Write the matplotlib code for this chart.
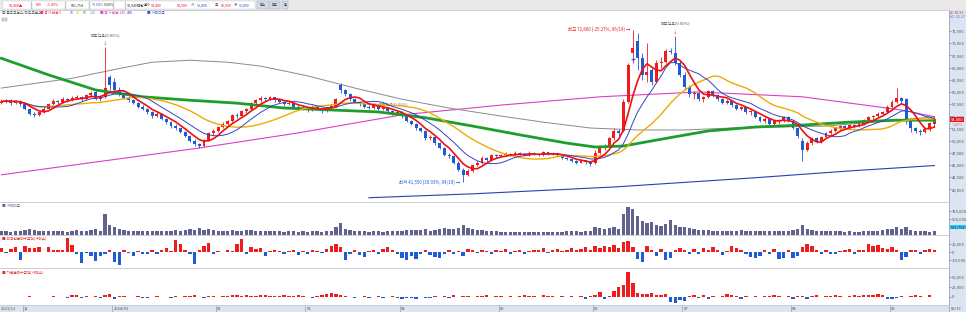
import matplotlib
matplotlib.use("Agg")
import matplotlib.pyplot as plt
import matplotlib.transforms as mtransforms
from matplotlib.patches import Rectangle
import numpy as np
import pandas as pd

plt.rcParams['font.family'] = ['Noto Sans CJK KR', 'DejaVu Sans']

# first trading day index of each month on the x axis
month_idx = [0, 5, 24, 46, 65, 85, 106, 126, 145, 168, 189]
month_lbl = ['2023/11', '12', '2024/01', '02', '03', '04', '05', '06', '07', '08', '09']

# daily prices, thousand won (2023/11/24 .. 2024/09/13)
opens = [57.8, 58.0, 58.3, 57.8, 58.2, 57.5, 56.5, 55.5, 55.2, 55.8,
         56.6, 57.5, 58.2, 58.0, 58.6, 58.3, 58.8, 59.0, 58.5, 59.3,
         60.0, 58.5, 59.0, 63.0, 62.0, 60.5, 59.5, 58.8, 58.4, 57.8,
         57.0, 56.5, 55.8, 55.0, 55.5, 54.5, 53.8, 53.0, 52.5, 51.8,
         51.0, 50.0, 49.3, 49.0, 50.2, 51.5, 52.0, 52.8, 53.5, 54.0,
         55.2, 55.0, 56.0, 56.5, 57.8, 58.3, 58.8, 58.5, 58.9, 58.3,
         58.0, 57.5, 57.8, 57.0, 56.5, 56.8, 56.2, 57.0, 56.5, 56.0,
         56.8, 57.2, 61.5, 60.3, 59.5, 58.5, 58.0, 57.5, 57.0, 56.8,
         57.5, 56.5, 56.8, 56.0, 55.5, 55.8, 55.0, 54.0, 53.5, 52.5,
         52.0, 50.5, 50.8, 49.5, 48.5, 47.0, 46.8, 45.5, 44.0, 43.0,
         43.8, 45.0, 45.5, 46.5, 46.0, 47.0, 46.8, 47.0, 47.3, 47.0,
         47.5, 47.2, 47.0, 47.5, 47.3, 47.0, 47.6, 47.2, 47.4, 47.0,
         46.5, 46.2, 45.8, 45.5, 46.0, 45.6, 45.5, 47.5, 48.5, 49.0,
         50.5, 52.0, 52.0, 58.0, 68.0, 70.5, 67.0, 63.5, 64.5, 62.0,
         66.0, 66.2, 68.5, 68.0, 66.0, 63.5, 61.0, 59.5, 59.8, 58.5,
         59.0, 60.2, 59.3, 58.5, 57.8, 58.2, 57.3, 56.5, 56.9, 55.8,
         56.0, 54.8, 54.0, 54.5, 53.5, 54.0, 54.2, 54.8, 54.0, 52.5,
         50.0, 48.0, 49.5, 50.5, 49.8, 50.8, 51.5, 52.0, 52.5, 53.0,
         52.6, 53.2, 53.0, 53.5, 54.2, 54.8, 55.0, 55.5, 55.8, 57.0,
         58.0, 58.8, 58.5, 54.0, 52.5, 52.0, 51.8, 52.3, 53.4]
highs = [58.5, 58.6, 58.5, 58.4, 58.3, 57.8, 56.8, 55.9, 56.0, 56.9,
         57.8, 58.5, 58.4, 58.9, 58.8, 59.1, 59.4, 59.2, 59.5, 60.2,
         60.3, 59.3, 69.2, 63.5, 62.8, 61.0, 59.8, 59.2, 58.6, 58.0,
         57.3, 56.8, 56.0, 55.9, 55.6, 54.7, 54.0, 53.4, 52.7, 52.0,
         51.2, 50.3, 49.6, 50.4, 51.8, 52.3, 53.0, 53.8, 54.3, 55.5,
         55.6, 56.3, 56.8, 58.0, 58.6, 59.2, 59.0, 59.2, 59.0, 58.6,
         58.2, 58.1, 58.0, 57.3, 57.1, 57.0, 57.3, 57.2, 56.7, 57.0,
         57.5, 58.8, 61.8, 60.6, 59.8, 58.8, 58.2, 57.8, 57.3, 57.8,
         57.6, 57.1, 57.0, 56.2, 56.0, 56.0, 55.2, 54.3, 53.7, 52.8,
         52.2, 51.2, 51.0, 49.8, 48.7, 47.5, 47.0, 45.8, 44.3, 44.1,
         45.3, 45.8, 46.8, 46.7, 47.3, 47.2, 47.3, 47.6, 47.5, 47.8,
         47.7, 47.4, 47.8, 47.6, 47.5, 47.9, 47.7, 47.6, 47.5, 47.1,
         46.7, 46.4, 46.0, 46.3, 46.1, 45.8, 48.0, 48.8, 49.3, 50.8,
         52.5, 52.3, 58.5, 66.0, 72.8, 72.0, 68.0, 70.0, 65.0, 66.5,
         67.2, 68.8, 69.0, 71.5, 66.3, 64.0, 61.5, 60.2, 60.0, 59.2,
         60.5, 60.4, 59.5, 58.8, 58.5, 58.4, 57.5, 57.2, 57.0, 56.3,
         56.1, 55.0, 54.8, 54.6, 54.3, 54.5, 55.0, 55.0, 54.2, 52.7,
         50.5, 50.0, 50.8, 50.8, 51.0, 51.8, 52.3, 52.8, 53.3, 53.2,
         53.5, 53.4, 53.8, 54.5, 55.0, 55.3, 55.8, 56.0, 57.3, 58.3,
         60.8, 59.0, 58.8, 54.3, 52.9, 52.4, 52.6, 53.8, 55.0]
lows = [57.5, 57.7, 57.4, 57.5, 57.2, 56.2, 55.2, 54.8, 55.0, 55.6,
        56.4, 57.3, 57.6, 57.8, 58.0, 58.1, 58.5, 58.2, 58.4, 59.0,
        58.3, 58.2, 58.8, 60.5, 60.2, 59.2, 58.5, 58.0, 57.5, 56.8,
        56.2, 55.5, 54.7, 54.8, 54.2, 53.5, 52.7, 52.2, 51.5, 50.7,
        49.8, 49.0, 48.5, 48.8, 50.0, 51.2, 51.8, 52.5, 53.2, 53.8,
        54.6, 54.9, 55.7, 56.3, 57.5, 58.0, 58.2, 58.3, 58.0, 57.8,
        57.2, 57.3, 56.8, 56.2, 56.3, 55.9, 56.0, 56.2, 55.7, 55.8,
        56.5, 57.0, 59.8, 59.2, 58.2, 57.7, 57.2, 56.7, 56.5, 56.6,
        56.3, 56.3, 55.8, 55.2, 55.2, 54.7, 53.8, 53.2, 52.2, 51.7,
        50.2, 50.2, 49.2, 48.2, 46.8, 46.5, 45.2, 43.7, 41.55, 42.8,
        43.6, 44.8, 45.3, 45.7, 45.8, 46.5, 46.6, 46.8, 46.8, 46.9,
        47.0, 46.8, 46.9, 47.0, 46.8, 46.9, 47.0, 47.0, 46.8, 46.3,
        46.0, 45.6, 45.2, 45.4, 45.3, 44.8, 45.3, 47.2, 48.0, 48.8,
        50.2, 51.0, 51.8, 57.8, 66.0, 64.5, 62.5, 62.0, 61.5, 61.8,
        65.0, 66.0, 67.8, 65.5, 63.0, 60.5, 59.0, 58.5, 58.2, 58.0,
        58.8, 59.0, 58.2, 57.5, 57.5, 57.0, 56.3, 56.2, 55.5, 55.3,
        54.6, 53.8, 53.6, 53.2, 53.3, 53.4, 53.9, 53.8, 52.3, 50.5,
        45.8, 47.8, 49.2, 49.5, 49.6, 50.5, 51.2, 51.7, 52.2, 52.3,
        52.4, 52.7, 52.8, 53.3, 54.0, 54.5, 54.8, 55.2, 55.6, 56.8,
        57.8, 57.8, 53.5, 51.8, 51.5, 51.2, 51.5, 52.0, 52.8]
closes = [58.0, 58.3, 57.8, 58.2, 57.5, 56.5, 55.5, 55.2, 55.8, 56.6,
          57.5, 58.2, 58.0, 58.6, 58.3, 58.8, 59.0, 58.5, 59.3, 59.8,
          58.5, 59.0, 60.8, 61.5, 60.5, 59.5, 58.8, 58.4, 57.8, 57.0,
          56.5, 55.8, 55.0, 55.5, 54.5, 53.8, 53.0, 52.5, 51.8, 51.0,
          50.0, 49.3, 49.0, 50.2, 51.5, 52.0, 52.8, 53.5, 54.0, 55.2,
          55.0, 56.0, 56.5, 57.8, 58.3, 58.8, 58.5, 58.9, 58.3, 58.0,
          57.5, 57.8, 57.0, 56.5, 56.8, 56.2, 57.0, 56.5, 56.0, 56.8,
          57.2, 58.5, 60.3, 59.5, 58.5, 58.0, 57.5, 57.0, 56.8, 57.5,
          56.5, 56.8, 56.0, 55.5, 55.8, 55.0, 54.0, 53.5, 52.5, 52.0,
          50.5, 50.8, 49.5, 48.5, 47.0, 46.8, 45.5, 44.0, 43.0, 43.8,
          45.0, 45.5, 46.5, 46.0, 47.0, 46.8, 47.0, 47.3, 47.0, 47.5,
          47.2, 47.0, 47.5, 47.3, 47.0, 47.6, 47.2, 47.4, 47.0, 46.5,
          46.2, 45.8, 45.5, 46.0, 45.6, 45.2, 47.5, 48.5, 49.0, 50.5,
          52.0, 51.5, 58.0, 65.5, 69.0, 67.0, 63.5, 64.0, 62.0, 66.0,
          66.2, 68.5, 68.2, 66.0, 63.5, 61.0, 59.5, 59.8, 58.5, 59.0,
          60.2, 59.3, 58.5, 57.8, 58.2, 57.3, 56.5, 56.9, 55.8, 56.0,
          54.8, 54.0, 54.5, 53.5, 54.0, 54.2, 54.8, 54.0, 52.5, 51.0,
          48.0, 49.5, 50.5, 49.8, 50.8, 51.5, 52.0, 52.5, 53.0, 52.6,
          53.2, 53.0, 53.5, 54.2, 54.8, 55.0, 55.5, 55.8, 57.0, 58.0,
          58.8, 58.2, 54.0, 52.5, 52.0, 51.8, 52.3, 53.6, 54.4]

# long moving averages: (day index, thousand won)
ma60_pts = [(0, 66.9), (10, 63.5), (20, 60.4), (30, 59.0), (40, 58.3), (50, 57.7),
            (60, 56.7), (70, 56.3), (80, 55.9), (90, 54.7), (100, 53.0), (110, 51.2),
            (120, 49.5), (126, 48.7), (132, 48.9), (140, 50.3), (150, 52.0),
            (160, 52.8), (170, 53.2), (180, 53.8), (190, 54.2), (198, 54.2)]
ma120_pts = [(0, 60.8), (15, 62.8), (25, 64.8), (32, 66.1), (40, 66.5), (48, 66.1),
             (55, 65.3), (65, 63.3), (75, 60.8), (85, 58.5), (95, 56.7), (105, 55.2),
             (115, 53.8), (125, 52.6), (135, 52.2), (145, 52.2), (155, 52.6),
             (165, 52.8), (175, 53.0), (185, 53.8), (198, 54.9)]
ma240_pts = [(0, 43.0), (42, 48.5), (63, 51.6), (85, 55.3), (106, 57.3), (127, 59.0),
             (148, 60.0), (170, 59.0), (191, 56.3), (198, 54.9)]
ma480_pts = [(78, 38.3), (100, 39.1), (130, 40.5), (160, 42.4), (180, 43.8), (198, 44.9)]

# volume (thousand shares)
volume = [120, 110, 100, 120, 110, 150, 180, 160, 130, 120,
          140, 130, 110, 120, 100, 130, 150, 120, 140, 160,
          180, 130, 660, 320, 250, 200, 160, 140, 130, 120,
          120, 140, 130, 110, 120, 130, 140, 150, 130, 160,
          190, 170, 210, 150, 180, 160, 140, 130, 120, 170,
          140, 120, 150, 160, 130, 120, 110, 130, 120, 110,
          100, 120, 110, 100, 110, 100, 120, 110, 100, 120,
          140, 260, 360, 200, 150, 130, 120, 110, 100, 110,
          120, 100, 110, 120, 130, 140, 150, 160, 170, 150,
          180, 140, 170, 190, 210, 180, 200, 230, 300, 220,
          180, 160, 150, 130, 140, 120, 100, 90, 100, 90,
          80, 90, 100, 90, 80, 100, 90, 80, 90, 100,
          110, 120, 110, 100, 120, 130, 250, 230, 200, 220,
          260, 200, 650, 880, 820, 600, 450, 380, 420, 300,
          280, 350, 480, 300, 250, 260, 220, 180, 160, 150,
          170, 140, 130, 140, 120, 130, 140, 150, 130, 120,
          140, 130, 120, 110, 120, 110, 130, 120, 150, 180,
          300, 200, 160, 140, 130, 120, 110, 120, 110, 100,
          110, 100, 100, 110, 120, 130, 140, 150, 180, 200,
          260, 180, 240, 170, 140, 120, 110, 100, 110]

# foreign net buying (x1000)
foreign = [5, -1, 4, 6, -10, 7, 5, 5, 6, 0.5,
           6, 2, 2, 3, 17, 9, -3, -14, -1, -5,
           -11, -5, -2, 2, -13, -16, 3, -1, -5, 1,
           -2, -3, 2, -3, 3, 5, 1, 15, 10, 2,
           -3, -15, 3, 8, 11, -2, 1, 0.5, 2, 1,
           10, 16, -2, 6, 4, 5, -5, 1, 3, 1,
           -3, 1, 2, -4, 1, -2, 3, 1, -1, 4,
           8, 10, 6, -10, -3, 2, -4, -6, 1, 2,
           -3, 4, 6, 3, -2, -8, -10, -5, -9, -3,
           2, -4, -6, -8, -3, 3, -2, 1, -5, 4,
           2, -1, 3, 1, -2, 2, 1, 4, -2, 1,
           2, -3, 1, 3, 2, 5, -1, 2, 4, 1,
           3, 5, 2, 4, 6, 3, 8, 5, 7, 6,
           9, 5, 12, 14, 6, -9, -12, 8, 3, -5,
           4, -10, -8, 3, 5, 2, -3, 4, -2, 5,
           3, 6, 2, -4, 1, 7, 5, 3, -2, -6,
           -8, -5, 2, -3, 4, -9, -7, 2, -8, -5,
           6, 10, 8, 3, -2, 2, -3, -2, 1, 3,
           4, -2, 2, 3, 10, 8, 9, 5, 4, 6,
           3, -10, -6, 2, 3, -2, 3, 4, 3]

# institutional net buying (x1000)
inst = [1, -1, 0.5, -1, 1, -0.5, 3, -1, 0.5, -1,
        1, 2, -1, 1, -3, 4, 6, -3, 2, 1,
        2, -2, 5, 7, -4, 3, 2, 1, -1, 3,
        -3, -2, 1, 2, -1, 1, -2, 2, 1, 3,
        2, 4, 1, -2, 2, 3, 1, 2, 3, 4,
        5, 3, 4, 2, 3, 5, 4, 2, 3, 2,
        4, 3, 2, 5, 3, 1, -2, 2, 4, 7,
        10, 8, 4, 2, -1, -3, 1, 3, -2, 1,
        2, -3, 1, 2, -2, -4, -3, -2, -5, 1,
        -2, -3, 2, -1, 3, -2, 4, 1, 2, 3,
        1, 3, 2, 4, 1, 2, 3, 1, 2, 1,
        3, 4, 2, 3, 1, 5, 3, 2, -1, 2,
        1, 2, -1, 3, -6, 2, 5, 12, -4, 2,
        15, 25, 30, 62, 35, 10, 8, 7, 9, 6,
        5, 8, -12, -15, -8, -10, 3, 5, -2, 4,
        -4, 2, 1, 3, 8, 6, 2, -4, 3, 1,
        2, 1, 3, 3, 4, 2, -1, 3, -5, 2,
        3, -5, 2, 4, 1, 3, 2, 4, 3, 1,
        2, 4, 3, 6, 5, 6, 7, 6, -4, -5,
        -3, 2, 1, 3, 6, 2, 1, 4, 1]

RED = '#ee1c1c'
BLUE = '#1f5bd6'
GRID = '#c4c8d0'
STRIP = '#dbe5f1'
TXT = '#505050'
FS = 3.2
FT = 2.9  # axis labels

df = pd.DataFrame({'o': opens, 'h': highs, 'l': lows, 'c': closes})
df[['o', 'h', 'l', 'c']] *= 1000
n = len(df)
x = np.arange(n)
up = df['c'] >= df['o']
colors = np.where(up, RED, BLUE)

W_PX, H_PX = 966, 312
fig = plt.figure(figsize=(W_PX / 100, H_PX / 100), dpi=100)


def box(top, bottom, right=949):
    return [0, 1 - bottom / H_PX, right / W_PX, (bottom - top) / H_PX]


def frect(px, py, w, h, **kw):
    # rectangle in pixel coords from the top-left corner
    fig.patches.append(Rectangle((px / W_PX, 1 - (py + h) / H_PX), w / W_PX, h / H_PX,
                                 transform=fig.transFigure, **kw))


# backgrounds: toolbar, right scale strip, date strip
frect(0, 0, W_PX, 10, color='#e9e9e9', zorder=-2)
frect(949, 10, W_PX - 949, H_PX - 10, color=STRIP, zorder=-2)
frect(0, 305, W_PX, 7, color=STRIP, zorder=-2)
frect(3, 1.5, 252, 7.5, fc='white', ec='#c8c8c8', lw=0.3, zorder=-1)

ax = fig.add_axes(box(10, 201))
axv = fig.add_axes(box(202, 235), sharex=ax)
axf = fig.add_axes(box(235, 268), sharex=ax)
axi = fig.add_axes(box(268, 305), sharex=ax)
axd = fig.add_axes(box(305, 312), sharex=ax)

x_left = -1.4 / 4.712
x_right = (949 - 1.4) / 4.712
for a in (ax, axv, axf, axi, axd):
    a.set_xlim(x_left, x_right)
    a.tick_params(axis='x', bottom=False, labelbottom=False)
    for s in ('left', 'bottom'):
        a.spines[s].set_visible(False)
    a.spines['top'].set_color(GRID)
    a.spines['right'].set_color('#9aa6b8')
    a.spines['top'].set_linewidth(0.6)
    a.spines['right'].set_linewidth(0.6)
    a.yaxis.tick_right()
    a.tick_params(axis='y', labelsize=FT, colors=TXT, length=1.2, width=0.4, pad=0.8)
axd.set_facecolor(STRIP)
axd.set_yticks([])

# ---- price panel
ax.vlines(x, df['l'], df['h'], colors=colors, linewidth=0.6, zorder=2)
body_h = (df['c'] - df['o']).abs().clip(lower=60)
ax.bar(x, body_h, bottom=np.minimum(df['o'], df['c']), width=0.62, color=colors,
       linewidth=0, zorder=3)

ma5 = df['c'].rolling(5, min_periods=1).mean()
ma10 = df['c'].rolling(10, min_periods=1).mean()
ma20 = df['c'].rolling(20, min_periods=1).mean()


def pts(p):
    return [q[0] for q in p], [q[1] * 1000 for q in p]


ax.plot(*pts(ma240_pts), color='#e03cc8', lw=0.8, zorder=1)
ax.plot(*pts(ma480_pts), color='#2b3fb0', lw=0.8, zorder=1)
ax.plot(*pts(ma120_pts), color='#8a8a8a', lw=0.7, zorder=1)
ax.plot(*pts(ma60_pts), color='#1d9e2c', lw=2.0, zorder=4)
ax.plot(x, ma20, color='#f2a900', lw=1.0, zorder=4)
ax.plot(x, ma10, color='#3545c0', lw=0.7, zorder=4)
ax.plot(x, ma5, color='#f01010', lw=1.2, zorder=5)

ax.set_ylim(37628, 76808)
pt = np.arange(40000, 72501, 2500)
ax.set_yticks(pt)
ax.set_yticklabels([f'{v:,}' for v in pt])

tr = mtransforms.blended_transform_factory(ax.transAxes, ax.transData)
ax.text(1.002, 54400, '54,400', transform=tr, fontsize=FT, color='white', va='center',
        ha='left', bbox=dict(boxstyle='square,pad=0.12', fc='#e8141c', ec='none'), zorder=10)
ax.text(1.004, 53300, '1.49%', transform=tr, fontsize=FT - 0.3, color='#ff6060',
        va='center', ha='left')
fig.text(950 / W_PX, 1 - 12.5 / H_PX, 'LC:30.93', fontsize=FT - 0.3, color='#e02020',
         va='center')
fig.text(950 / W_PX, 1 - 16.5 / H_PX, 'HC:-25.27', fontsize=FT - 0.4, color='#4070d0',
         va='center')

# high / low notes
i_hi = int(np.argmax(df['h']))
i_lo = int(np.argmin(df['l']))
ax.text(i_hi - 0.6, df['h'][i_hi], '최고 72,800 (-25.27%, 06/14) →', color=RED,
        fontsize=FS, ha='right', va='center')
ax.text(i_lo - 0.6, df['l'][i_lo], '최저 41,550 (30.93%, 04/19) →', color=BLUE,
        fontsize=FS, ha='right', va='center')
# sell signal markers
for i_m in (22, 143):
    ax.text(i_m, df['h'][i_m] + 1900, '매도신호(0.00%)', color=TXT, fontsize=FS - 0.3,
            ha='center', va='bottom')
    ax.text(i_m, df['h'][i_m] + 300, '↓', color=RED, fontsize=FS, ha='center', va='bottom')
ax.text(80, 57300, '매도신호(0.00%)', color='#707070', fontsize=FS - 0.3, ha='left',
        va='center')
ax.plot([134], [66700], marker='+', color=BLUE, ms=2.5, mew=0.8, zorder=6)

# legend line
items = [('▣ 골드크로스/데드크로스', '#505050'), ('■ 종가 단순 5', '#ff3a6e'), ('10', '#3050d0'),
         ('20', '#f0a000'), ('60', '#20a040'), ('120', '#888888'),
         ('■ 종가 단순 240', '#e040c0'), ('480', '#2b3fb0'), ('■ 거래대금', '#4050c8')]
starts = [2, 40, 70, 76, 83, 90, 100, 127, 147]
for (t, c), sx in zip(items, starts):
    fig.text(sx / W_PX, 1 - 13 / H_PX, t, color=c, fontsize=FS - 0.6, va='center')
frect(2, 18, 5, 3, fc='#d8d8d8', ec='#909090', lw=0.3)

# toolbar
tb = [(9, '54,400▲', RED), (36, '800', RED), (47, '+1.49%', RED), (71, '681,754', '#303030'),
      (92, '75.64%', '#3060d0'), (104, '0.34%', '#303030'), (127, '32,940백만', '#303030'),
      (144, '호가', '#303030'), (151, '54,400', RED), (177, '54,300', RED),
      (191, '시', '#303030'), (197, '53,400', BLUE), (215, '고', '#303030'),
      (221, '55,000', RED), (234, '저', '#303030'), (239, '52,800', BLUE)]
for px, t, c in tb:
    fig.text(px / W_PX, 1 - 5.5 / H_PX, t, color=c, fontsize=FS - 0.6, va='center')
for sx in (31, 65, 89, 113, 125):
    frect(sx, 1.5, 0.4, 7.5, color='#c8c8c8', zorder=-1)
for px, w, t in ((257, 12, '매수'), (270, 10, '매도'), (282, 6, '원')):
    frect(px, 1, w, 8, fc='#d4dbe6', ec='#9aa3b0', lw=0.3)
    fig.text((px + w / 2) / W_PX, 1 - 5.5 / H_PX, t, fontsize=FS - 0.8, color='#303030',
             ha='center', va='center')

# ---- volume panel
axv.bar(x, np.array(volume) * 1000, width=0.7, color='#62628e', linewidth=0)
axv.set_ylim(0, 1031250)
axv.set_yticks([500000, 750000])
axv.set_yticklabels(['500,000', '750,000'])
trv = mtransforms.blended_transform_factory(axv.transAxes, axv.transData)
axv.text(1.002, 250000, '681,754', transform=trv, fontsize=FT, color='#204060', va='center',
         ha='left', bbox=dict(boxstyle='square,pad=0.12', fc='#25c8ee', ec='none'))
axv.text(0.002, 0.93, '■ 거래대금', transform=axv.transAxes, color='#6a6a98',
         fontsize=FS - 0.5, va='top')

# ---- foreign / institution panels
f = np.array(foreign) * 1000
axf.bar(x, f, width=0.72, color=np.where(f >= 0, RED, BLUE), linewidth=0)
axf.set_ylim(-20000, 21250)
axf.set_yticks([-10000, 0, 10000])
axf.set_yticklabels(['-10,000', '0', '10,000'])
axf.text(0.002, 0.95, '■ 외국인순매수금액(거래소)', transform=axf.transAxes, color='#e03030',
         fontsize=FS - 0.5, va='top')

g = np.array(inst) * 1000
axi.bar(x, g, width=0.72, color=np.where(g >= 0, RED, BLUE), linewidth=0)
axi.set_ylim(-20000, 72500)
axi.set_yticks([0, 25000, 50000])
axi.set_yticklabels(['0', '25,000', '50,000'])
axi.text(0.002, 0.95, '■ 기관순매수금액(거래소)', transform=axi.transAxes, color='#e03030',
         fontsize=FS - 0.5, va='top')

# ---- date strip
for k, (mi, ml) in enumerate(zip(month_idx, month_lbl)):
    if k > 0:
        axd.axvline(mi - 0.5, color='#8090a8', lw=0.4)
    axd.text(mi - 0.2, 0.45, ml, fontsize=FT, color=TXT, va='center', ha='left')
fig.text(951 / W_PX, 3.5 / H_PX, '09/13', fontsize=FT, color=TXT, va='center')

fig.savefig('out.png', dpi=100)
